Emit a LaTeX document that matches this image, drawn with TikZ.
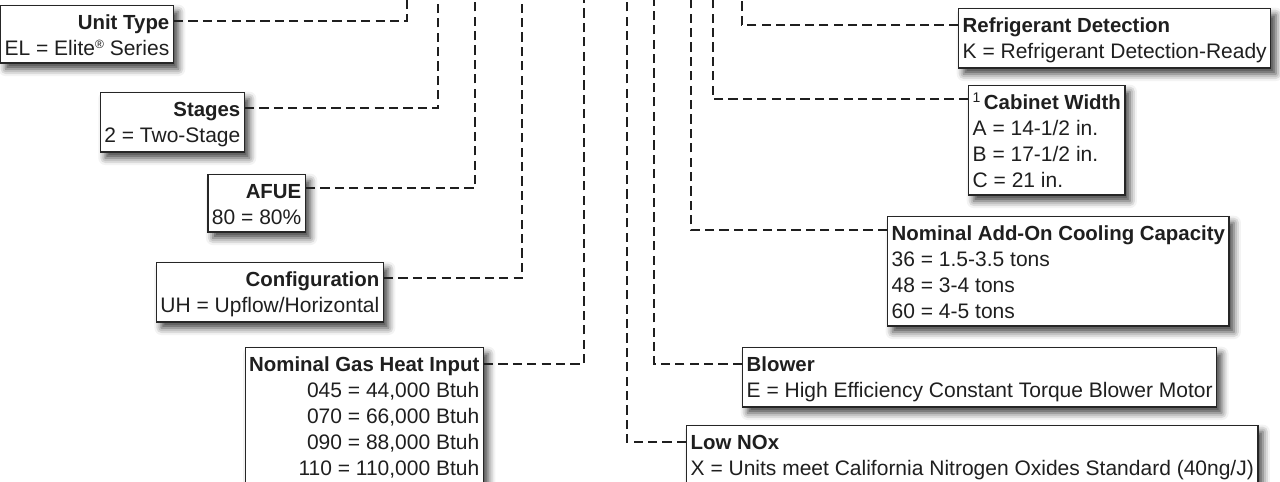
\documentclass[tikz,border=0pt]{standalone}
\usepackage{fontspec}
\setmainfont{Liberation Sans}
\usetikzlibrary{shadows.blur}
\newcommand\lstrut{\rule[-1.2pt]{0pt}{10.7pt}}
\newcommand\ttl[1]{\lstrut{\fontsize{10.2}{13}\selectfont\bfseries #1}}
\tikzset{
  codebox/.style={
    rectangle, draw=black!85, line width=0.7pt, fill=white,
    inner xsep=2pt, inner ysep=2.5pt, text=black!88,
    font=\fontsize{10.5}{13}\selectfont,
    blur shadow={shadow xshift=2.5pt, shadow yshift=-3pt,
      shadow blur radius=3.5pt, shadow opacity=75}
  },
  leftbox/.style={codebox, anchor=north east, align=right},
  rightbox/.style={codebox, anchor=north west, align=left},
  lead/.style={draw=black!88, line width=1.4pt, dash pattern=on 4.6pt off 2.6pt}
}

\begin{document}
\begin{tikzpicture}[x=0.5pt, y=-0.5pt]
  \useasboundingbox (0,0) rectangle (1280,482);

  % tops of the leads
  \coordinate (tUnit) at (407,-4);
  \coordinate (tStages) at (438,-4);
  \coordinate (tAfue) at (475,-4);
  \coordinate (tConfig) at (522,-4);
  \coordinate (tGas) at (584,-4);
  \coordinate (tNox) at (627,-4);
  \coordinate (tBlower) at (654,-4);
  \coordinate (tCooling) at (691,-4);
  \coordinate (tCabinet) at (713,-4);
  \coordinate (tRefrig) at (742,-4);

  % left column
  \node[leftbox] (unit) at (174,5)
    {\ttl{Unit Type}\\\lstrut EL = Elite\raisebox{3.5pt}{\fontsize{6}{6}\selectfont ®} Series};
  \node[leftbox] (stages) at (245,92)
    {\ttl{Stages}\\\lstrut 2 = Two-Stage};
  \node[leftbox] (afue) at (306,174)
    {\ttl{AFUE}\\\lstrut 80 = 80\%};
  \node[leftbox] (config) at (384,262)
    {\ttl{Configuration}\\\lstrut UH = Upflow/Horizontal};
  \node[leftbox] (gas) at (484,347)
    {\ttl{Nominal Gas Heat Input}\\\lstrut 045 = 44,000 Btuh\\\lstrut 070 = 66,000 Btuh\\
     \lstrut 090 = 88,000 Btuh\\\lstrut 110 = 110,000 Btuh};

  % right column
  \node[rightbox] (refrig) at (958,8)
    {\ttl{Refrigerant Detection}\\\lstrut K = Refrigerant Detection-Ready};
  \node[rightbox] (cabinet) at (968,85)
    {\lstrut\raisebox{3.5pt}{\fontsize{7}{7}\selectfont 1}\,{\fontsize{10.2}{13}\selectfont\bfseries Cabinet Width}\\
     \lstrut A = 14-1/2 in.\\\lstrut B = 17-1/2 in.\\\lstrut C = 21 in.};
  \node[rightbox] (cooling) at (887,216)
    {\ttl{Nominal Add-On Cooling Capacity}\\\lstrut 36 = 1.5-3.5 tons\\
     \lstrut 48 = 3-4 tons\\\lstrut 60 = 4-5 tons};
  \node[rightbox] (blower) at (742,347)
    {\ttl{Blower}\\\lstrut E = High Efficiency Constant Torque Blower Motor};
  \node[rightbox] (nox) at (686,425)
    {\ttl{Low NOx}\\\lstrut X = Units meet California Nitrogen Oxides Standard (40ng/J)};

  % leads
  \draw[lead] ([yshift=-8pt]unit.north east) -| (tUnit);
  \draw[lead] ([yshift=-8pt]stages.north east) -| (tStages);
  \draw[lead] ([yshift=-7pt]afue.north east) -| (tAfue);
  \draw[lead] ([yshift=-8pt]config.north east) -| (tConfig);
  \draw[lead] ([yshift=-8.5pt]gas.north east) -| (tGas);
  \draw[lead] ([yshift=-8.5pt]nox.north west) -| (tNox);
  \draw[lead] ([yshift=-8.5pt]blower.north west) -| (tBlower);
  \draw[lead] ([yshift=-7pt]cooling.north west) -| (tCooling);
  \draw[lead] ([yshift=-7pt]cabinet.north west) -| (tCabinet);
  \draw[lead] ([yshift=-8.5pt]refrig.north west) -| (tRefrig);
\end{tikzpicture}
\end{document}
